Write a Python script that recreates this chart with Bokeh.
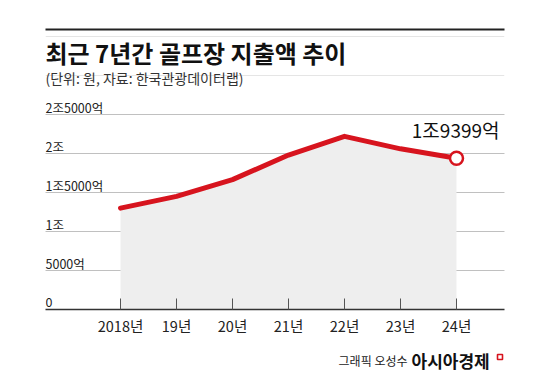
from bokeh.plotting import figure
from bokeh.layouts import column
from bokeh.models import (Range1d, FixedTicker, LinearAxis, Grid, Label,
                          ColumnDataSource)
from bokeh.core.properties import value
from bokeh.embed import file_html
from bokeh.resources import INLINE

# ---- data ----
years = [2018, 2019, 2020, 2021, 2022, 2023, 2024]
year_labels = ["2018년", "19년", "20년", "21년", "22년", "23년", "24년"]
spend = [13000, 14500, 16650, 19800, 22200, 20600, 19399]   # 억 원
y_ticks = [0, 5000, 10000, 15000, 20000, 25000]
y_tick_labels = ["0", "5000억", "1조", "1조5000억", "2조", "2조5000억"]
last_label = "1조9399억"

title_text = "최근 7년간 골프장 지출액 추이"
subtitle_text = "(단위: 원, 자료: 한국관광데이터랩)"
credit_text = "그래픽 오성수"
brand_text = "아시아경제"

KR = "Noto Sans CJK KR"
RED = "#d7141e"

W, H = 550, 340
p = figure(width=W, height=H, output_backend="svg", toolbar_location=None,
           x_range=Range1d(2018 - 75 / 56, 2024 + 48 / 56),
           y_range=Range1d(0, 280 * 5000 / 39),
           y_axis_location=None, x_axis_location="below",
           min_border_left=45, min_border_right=46,
           min_border_top=29, min_border_bottom=31)
p.outline_line_color = None
p.background_fill_color = "white"
p.border_fill_color = "white"
p.xgrid.visible = False

# x axis (below)
xa = p.below[0]
xa.ticker = FixedTicker(ticks=years)
xa.major_label_overrides = {y: l for y, l in zip(years, year_labels)}
xa.axis_line_color = "#333333"
xa.axis_line_width = 1.5
xa.major_tick_in = 11
xa.major_tick_out = 0
xa.major_tick_line_color = "#555555"
xa.minor_tick_line_color = None
xa.major_label_text_font = KR
xa.major_label_text_font_size = "14.5px"
xa.major_label_text_color = "#222222"
xa.major_label_standoff = 5

# top rule via an axis above
top_ax = LinearAxis(ticker=FixedTicker(ticks=[]), axis_line_color="#222222",
                    axis_line_width=2, major_tick_out=0, major_tick_in=0,
                    minor_tick_out=0, minor_tick_in=0,
                    minor_tick_line_color=None, major_tick_line_color=None,
                    major_label_text_font_size="0px")
p.add_layout(top_ax, "above")

# horizontal dotted grid
grid = Grid(dimension=1, ticker=FixedTicker(ticks=y_ticks[1:]),
            grid_line_color="#9a9a9a", grid_line_dash="1 1", grid_line_width=1)
p.add_layout(grid)

src = ColumnDataSource(dict(x=years, y=spend, base=[0] * len(years)))
p.varea(x="x", y1="base", y2="y", source=src, fill_color="#eeeeee")
p.line(x="x", y="y", source=src, line_color=RED, line_width=5,
       line_join="round", line_cap="round")
p.scatter(x=[years[-1]], y=[spend[-1]], size=13, marker="circle",
          fill_color="white", line_color=RED, line_width=2.5)

# y tick labels sitting above gridlines at the left edge
p.text(x=[p.x_range.start] * len(y_ticks), y=y_ticks, text=y_tick_labels,
       text_font=value(KR), text_font_size="12.5px", text_color="#222222",
       text_align="left", text_baseline="middle", y_offset=-7.5)

# last value annotation
p.text(x=[years[-1]], y=[spend[-1]], text=[last_label], text_font=value(KR),
       text_font_size="19px", text_color="#111111", text_align="right",
       text_baseline="middle", x_offset=43, y_offset=-28.5)

# screen units are relative to the frame (bottom-left origin)
FRAME_LEFT, FRAME_BOTTOM = 45, 309

def sx(px):
    return px - FRAME_LEFT

def sy(py):
    return FRAME_BOTTOM - py

p.add_layout(Label(x=sx(45), y=sy(52), x_units="screen", y_units="screen",
                   text=title_text, text_font=KR, text_font_size="24px",
                   text_font_style="bold", text_color="#111111",
                   text_baseline="middle", text_align="left"))
p.add_layout(Label(x=sx(45), y=sy(77), x_units="screen", y_units="screen",
                   text=subtitle_text, text_font=KR, text_font_size="14px",
                   text_color="#333333", text_baseline="middle",
                   text_align="left"))

# footer strip (its frame is aligned with the main frame: page x 45..504)
FH = 38
f = figure(width=W, height=FH, output_backend="svg", toolbar_location=None,
           x_range=Range1d(45, 504), y_range=Range1d(0, FH),
           x_axis_location=None, y_axis_location=None,
           min_border_left=45, min_border_right=46,
           min_border_top=0, min_border_bottom=0)
f.title.visible = False
f.outline_line_color = None
f.xgrid.visible = False
f.ygrid.visible = False
f.text(x=[407], y=[18], text=[credit_text], text_font=value(KR),
       text_font_size="12px", text_color="#222222", text_align="right",
       text_baseline="middle")
f.text(x=[411], y=[18], text=[brand_text], text_font=value(KR),
       text_font_size="17px", text_font_style="bold", text_color="#111111",
       text_align="left", text_baseline="middle")
f.scatter(x=[499.5], y=[21.5], marker="square", size=5, fill_color="white",
          line_color=RED, line_width=1.6)

layout = column(p, f, spacing=0)
open("out.html", "w").write(file_html(layout, INLINE))
